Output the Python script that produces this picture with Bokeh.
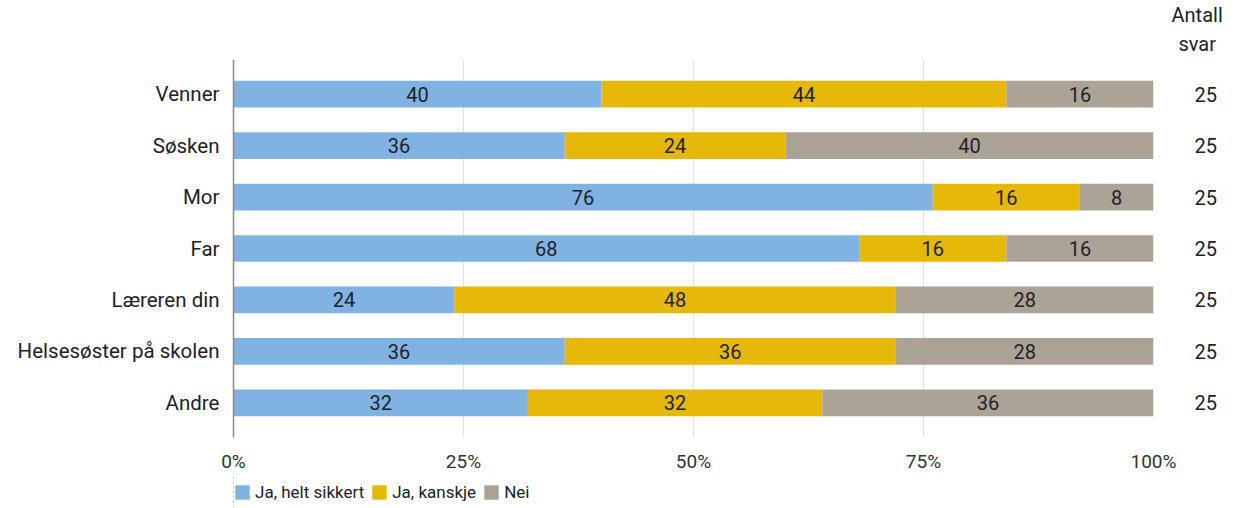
from bokeh.plotting import figure
from bokeh.layouts import column
from bokeh.models import (ColumnDataSource, FactorRange, Range1d, FixedTicker, Legend, LegendItem,
                          Title, CategoricalAxis, CustomJSTickFormatter)
from bokeh.core.properties import value
from bokeh.embed import file_html
from bokeh.resources import INLINE

categories = ["Venner", "Søsken", "Mor", "Far", "Læreren din", "Helsesøster på skolen", "Andre"]
ja_helt = [40, 36, 76, 68, 24, 36, 32]
ja_kanskje = [44, 24, 16, 16, 48, 36, 32]
nei = [16, 40, 8, 16, 28, 28, 36]
antall = [25, 25, 25, 25, 25, 25, 25]
series_names = ["Ja, helt sikkert", "Ja, kanskje", "Nei"]
tick_values = [0, 25, 50, 75, 100]
tick_labels = ["0%", "25%", "50%", "75%", "100%"]

colors = ["#80b3e2", "#e6b80a", "#aca397"]
FONT = "Roboto"
TXT = "#1e2128"

mid1 = [a / 2 for a in ja_helt]
mid2 = [a + b / 2 for a, b in zip(ja_helt, ja_kanskje)]
mid3 = [a + b + c / 2 for a, b, c in zip(ja_helt, ja_kanskje, nei)]

source = ColumnDataSource(dict(cat=categories, ja=ja_helt, kan=ja_kanskje, nei=nei,
                               m1=mid1, m2=mid2, m3=mid3,
                               t1=[str(v) for v in ja_helt], t2=[str(v) for v in ja_kanskje],
                               t3=[str(v) for v in nei]))

p = figure(width=1235, height=475, output_backend="svg", toolbar_location=None,
           y_range=FactorRange(factors=categories[::-1], range_padding=0.05),
           x_range=Range1d(0, 100),
           min_border_left=233, min_border_right=82, min_border_top=58, min_border_bottom=35)
p.outline_line_color = None

rs = p.hbar_stack(["ja", "kan", "nei"], y="cat", height=0.52, color=colors, line_color=None,
                  source=source)

for xf, tf in (("m1", "t1"), ("m2", "t2"), ("m3", "t3")):
    p.text(x=xf, y="cat", text=tf, source=source, text_align="center", text_baseline="middle",
           text_font=value(FONT), text_font_size="20px", text_color=TXT)

# axes
p.xaxis.ticker = FixedTicker(ticks=tick_values)
p.xaxis.major_label_overrides = {v: l for v, l in zip(tick_values, tick_labels)}
p.xaxis.axis_line_color = None
p.xaxis.major_tick_line_color = None
p.xaxis.minor_tick_line_color = None
p.xaxis.major_label_text_font = FONT
p.xaxis.major_label_text_font_size = "19px"
p.xaxis.major_label_text_color = "#2e3634"
p.xaxis.major_label_standoff = 6

p.yaxis.axis_line_color = "#8a8a8a"
p.yaxis.axis_line_width = 1.5
p.yaxis.major_tick_line_color = None
p.yaxis.minor_tick_line_color = None
p.yaxis.major_label_text_font = FONT
p.yaxis.major_label_text_font_size = "20.5px"
p.yaxis.major_label_text_color = TXT
p.yaxis.major_label_standoff = 8

p.ygrid.grid_line_color = None
p.xgrid.grid_line_color = "#e2e2e2"
p.xgrid.ticker = FixedTicker(ticks=tick_values[1:])

# "Antall svar" column as a right categorical axis
fmt = CustomJSTickFormatter(args=dict(cats=categories, vals=antall),
                            code="const i = cats.indexOf(tick); return i >= 0 ? String(vals[i]) : String(tick);")
right = CategoricalAxis(formatter=fmt, axis_line_color=None, major_tick_line_color=None,
                        minor_tick_line_color=None, major_label_text_font=FONT,
                        major_label_text_font_size="20px", major_label_text_color=TXT,
                        major_label_standoff=35)
p.add_layout(right, "right")

p.add_layout(Title(text="svar", align="left", offset=945, text_font=FONT,
                   text_font_size="20px", text_font_style="normal", text_color=TXT,
                   standoff=7), "above")
p.add_layout(Title(text="Antall", align="left", offset=938, text_font=FONT,
                   text_font_size="20px", text_font_style="normal", text_color=TXT,
                   standoff=0), "above")

# legend in a slim figure underneath (its bars lie outside its visible x range)
p2 = figure(width=1235, height=33, output_backend="svg", toolbar_location=None,
            x_range=Range1d(1000, 1001), y_range=FactorRange(factors=categories),
            min_border_left=233, min_border_right=82, min_border_top=0, min_border_bottom=0)
p2.axis.visible = False
p2.grid.grid_line_color = None
p2.outline_line_color = None
lr = p2.hbar_stack(["ja", "kan", "nei"], y="cat", height=0.52, color=colors, line_color=None,
                   source=source)
legend = Legend(items=[LegendItem(label=n, renderers=[r]) for n, r in zip(series_names, lr)],
                orientation="horizontal", location="left",
                label_text_font=FONT, label_text_font_size="17px", label_text_color=TXT,
                glyph_width=18, glyph_height=18, label_height=18, label_standoff=4, spacing=6,
                padding=0, margin=0, border_line_color=None, background_fill_alpha=0)
p2.add_layout(legend, "center")

layout = column(p, p2, spacing=0)
open("out.html", "w").write(file_html(layout, INLINE))
